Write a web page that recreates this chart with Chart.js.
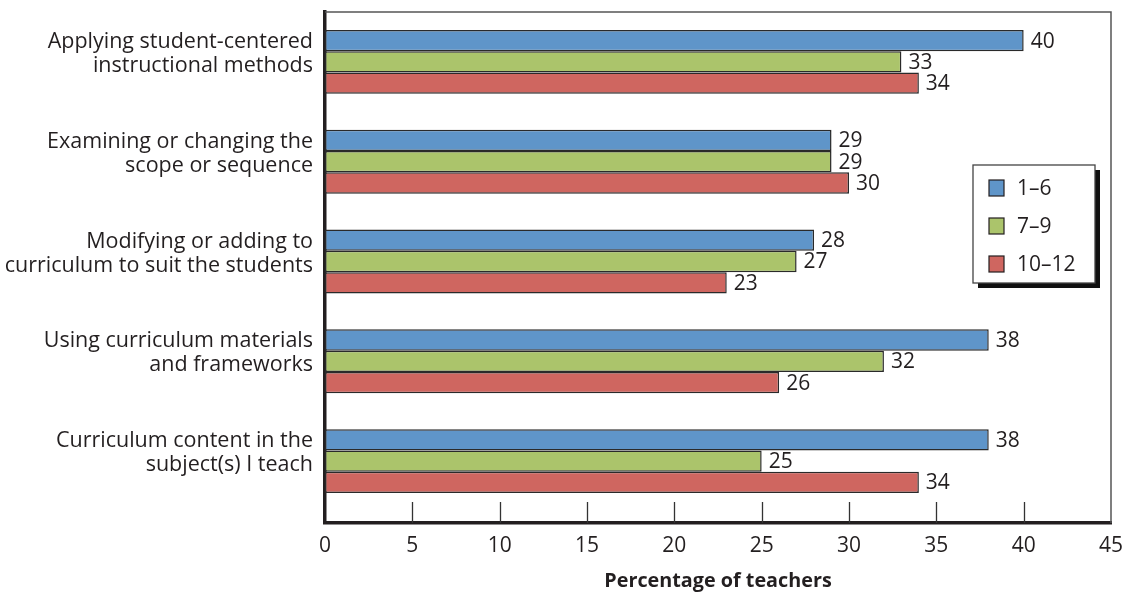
<!DOCTYPE html>
<html>
<head>
<meta charset="utf-8">
<title>Professional development topics</title>
<script src="https://cdn.jsdelivr.net/npm/chart.js@4.4.1/dist/chart.umd.min.js"></script>
<style>
  html, body { margin: 0; padding: 0; background: #fff; }
  #wrap { width: 1125px; height: 593px; }
</style>
</head>
<body>
<div id="wrap"><canvas id="topicChart" width="1125" height="593"></canvas></div>
<script>
// ── topic chart ──────────────────────────────────────────────

const topics = [
  ['Applying student-centered', 'instructional methods'],
  ['Examining or changing the', 'scope or sequence'],
  ['Modifying or adding to', 'curriculum to suit the students'],
  ['Using curriculum materials', 'and frameworks'],
  ['Curriculum content in the', 'subject(s) I teach'],
];
const grades1to6   = [40, 29, 28, 38, 38];
const grades7to9   = [33, 29, 27, 32, 25];
const grades10to12 = [34, 30, 23, 26, 34];
const xTicks = [0, 5, 10, 15, 20, 25, 30, 35, 40, 45];

const FONT = '"Open Sans", "Noto Sans", sans-serif';
const INK  = '#231f20';
const SIZE = 21;

// leave a little room under the last group, above the x axis
const bottomGap = {
  id: 'bottomGap',
  afterLayout(chart) {
    const y = chart.scales.y;
    y._endPixel = y.bottom - 12;
    y._length = y._endPixel - y._startPixel;
  }
};

// value labels at the end of each bar
const barLabels = {
  id: 'barLabels',
  afterDatasetsDraw(chart) {
    const ctx = chart.ctx;
    ctx.save();
    ctx.font = `${SIZE}px ${FONT}`;
    ctx.fillStyle = INK;
    ctx.textAlign = 'left';
    ctx.textBaseline = 'middle';
    chart.data.datasets.forEach((ds, i) => {
      chart.getDatasetMeta(i).data.forEach((bar, j) => {
        ctx.fillText(ds.data[j], bar.x + 7, bar.y + 1);
      });
    });
    ctx.restore();
  }
};

// thin top/right frame, inward tick marks on the x axis
const frame = {
  id: 'frame',
  afterDraw(chart) {
    const { ctx, chartArea: a, scales } = chart;
    ctx.save();
    ctx.strokeStyle = '#555';
    ctx.lineWidth = 1.5;
    ctx.beginPath();
    ctx.moveTo(a.left, a.top);
    ctx.lineTo(a.right, a.top);
    ctx.lineTo(a.right, a.bottom);
    ctx.stroke();

    ctx.strokeStyle = '#333';
    ctx.lineWidth = 1.3;
    ctx.beginPath();
    xTicks.slice(1, -1).forEach(v => {
      const x = Math.round(scales.x.getPixelForValue(v)) + 0.5;
      ctx.moveTo(x, a.bottom);
      ctx.lineTo(x, a.bottom - 21);
    });
    ctx.stroke();
    ctx.restore();
  }
};

// boxed legend with a drop shadow, inside the plot
const boxLegend = {
  id: 'boxLegend',
  afterDraw(chart) {
    const ctx = chart.ctx;
    const x = 973, y = 165, w = 122, h = 118;
    ctx.save();
    ctx.fillStyle = '#111';
    ctx.fillRect(x + 5, y + 5, w, h);
    ctx.fillStyle = '#fff';
    ctx.fillRect(x, y, w, h);
    ctx.strokeStyle = '#444';
    ctx.lineWidth = 1.3;
    ctx.strokeRect(x, y, w, h);

    ctx.font = `${SIZE}px ${FONT}`;
    ctx.textBaseline = 'middle';
    chart.data.datasets.forEach((ds, i) => {
      const ry = y + 23 + i * 38;
      ctx.fillStyle = ds.backgroundColor;
      ctx.fillRect(x + 16, ry - 8, 15, 16);
      ctx.strokeStyle = INK;
      ctx.lineWidth = 1.2;
      ctx.strokeRect(x + 16, ry - 8, 15, 16);
      ctx.fillStyle = INK;
      ctx.fillText(ds.label, x + 44, ry + 1);
    });
    ctx.restore();
  }
};

const barStyle = {
  borderColor: '#2a2a2a',
  borderWidth: 1.5,
  borderSkipped: false,
  barPercentage: 1.0,
  categoryPercentage: 0.64,
};

new Chart(document.getElementById('topicChart'), {
  type: 'bar',
  data: {
    labels: topics,
    datasets: [
      { label: '1–6',   data: grades1to6,   backgroundColor: '#5f95c9', ...barStyle },
      { label: '7–9',   data: grades7to9,   backgroundColor: '#abc46b', ...barStyle },
      { label: '10–12', data: grades10to12, backgroundColor: '#cf6660', ...barStyle },
    ],
  },
  options: {
    indexAxis: 'y',
    responsive: false,
    animation: false,
    layout: { padding: { top: 12, right: 14, left: 0, bottom: 0 } },
    plugins: {
      legend: { display: false },
      tooltip: { enabled: false },
    },
    scales: {
      x: {
        min: 0,
        max: 45,
        afterBuildTicks: s => { s.ticks = xTicks.map(v => ({ value: v })); },
        afterFit: s => {
          s.height = 70;
          s.paddingLeft = 0;
          s.paddingRight = 0;
        },
        grid: { display: false, drawTicks: false },
        border: { display: true, color: INK, width: 3.5 },
        ticks: { color: INK, font: { family: FONT, size: SIZE }, padding: 10, maxRotation: 0 },
        title: {
          display: true,
          text: 'Percentage of teachers',
          color: INK,
          font: { family: FONT, size: 19.8, weight: 'bold' },
          padding: { top: 4, bottom: 0 },
        },
      },
      y: {
        afterFit: s => {
          s.width = 325;
          s.paddingTop = 0;
          s.paddingBottom = 0;
        },
        grid: { display: false, drawTicks: false },
        border: { display: true, color: INK, width: 3.5 },
        ticks: {
          color: INK,
          font: { family: FONT, size: 21.5, lineHeight: 1.12 },
          padding: 12,
          labelOffset: -8,
        },
      },
    },
  },
  plugins: [bottomGap, barLabels, frame, boxLegend],
});
</script>
</body>
</html>
